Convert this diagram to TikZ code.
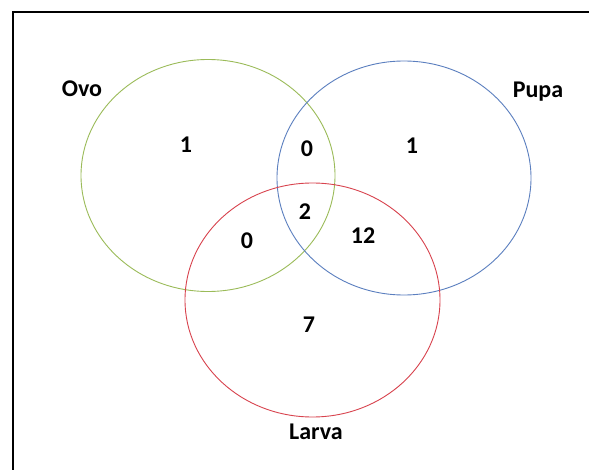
\documentclass[tikz,border=0pt]{standalone}
\usepackage{fontspec}
\setmainfont{Carlito}
\definecolor{ovogreen}{HTML}{9BBB59}
\definecolor{pupablue}{HTML}{5B7FBF}
\definecolor{larvared}{HTML}{D8434E}
\tikzset{
  setcircle/.style={ellipse, draw, line width=0.9pt, inner sep=0pt},
  lbl/.style={font=\fontsize{24}{28}\selectfont\bfseries, inner sep=0pt},
  num/.style={font=\fontsize{24}{28}\selectfont\bfseries, inner sep=0pt}
}
\usetikzlibrary{shapes.geometric}
\begin{document}
\begin{tikzpicture}[x=1pt,y=-1pt]
\useasboundingbox (0,0) rectangle (589,470);
\fill[white] (0,0) rectangle (589,470);
\coordinate (tl) at (13,12);
\coordinate (tr) at (589,12);
\coordinate (bl) at (13,470);
\draw[line width=2.2pt] (bl) -- (tl) -- (tr);
\node[setcircle, draw=ovogreen, minimum width=254pt, minimum height=232pt] (ovo) at (208,175.5) {};
\node[setcircle, draw=pupablue, minimum width=254pt, minimum height=234pt] (pupa) at (404,178) {};
\node[setcircle, draw=larvared, minimum width=255pt, minimum height=234pt] (larva) at (312.5,300) {};
\node[lbl] (tovo) at (82,89) {Ovo};
\node[lbl] (tpupa) at (538,92) {Pupa};
\node[lbl] (tlarva) at (316,432) {Larva};
\node[num] (n1) at (186,145) {1};
\node[num] (n2) at (307,149) {0};
\node[num] (n3) at (412,146) {1};
\node[num] (n4) at (305,212) {2};
\node[num] (n5) at (247,241) {0};
\node[num] (n6) at (363,236) {12};
\node[num] (n7) at (309,325) {7};
\end{tikzpicture}
\end{document}
